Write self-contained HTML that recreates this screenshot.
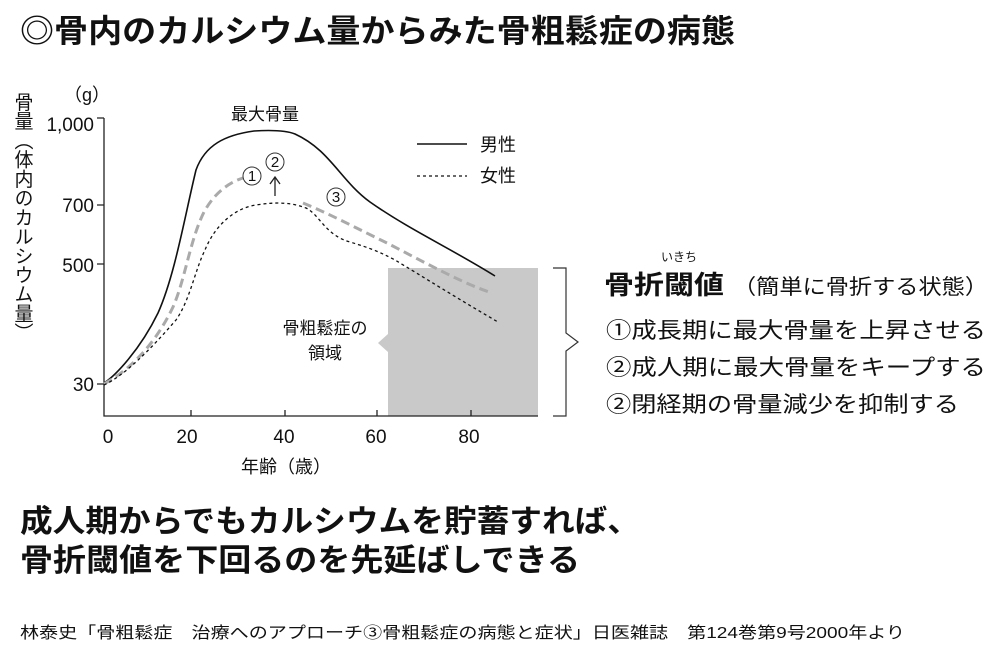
<!DOCTYPE html>
<html><head><meta charset="utf-8"><style>
html,body{margin:0;padding:0;background:#fff;}
svg{display:block;}
text{font-family:"Liberation Sans","Noto Sans CJK JP",sans-serif;fill:#111;}
</style></head><body>
<svg width="1000" height="645" viewBox="0 0 1000 645" xmlns="http://www.w3.org/2000/svg">
<text x="20" y="42" font-size="32" font-weight="bold" textLength="715" lengthAdjust="spacingAndGlyphs">◎骨内のカルシウム量からみた骨粗鬆症の病態</text>

<!-- y label -->
<text x="22" y="92" font-size="19" style="writing-mode:vertical-rl;glyph-orientation-vertical:0" textLength="250" lengthAdjust="spacingAndGlyphs">骨量（体内のカルシウム量）</text>
<text x="64" y="101" font-size="18">（g）</text>

<!-- gray box -->
<rect x="388" y="268" width="150" height="148" fill="#c9c9c9"/>
<polygon points="388,334 378,343 388,352" fill="#c9c9c9"/>

<!-- axes -->
<path d="M104,118 V416 H538" fill="none" stroke="#222" stroke-width="1.3"/>
<path d="M97,118H104M97,205H104M97,264H104M97,384H104M191,416v-6M285,416v-6M377,416v-6M471,416v-6" stroke="#222" stroke-width="1.3"/>
<g font-size="19" text-anchor="end">
<text x="94" y="131">1,000</text><text x="94" y="212">700</text><text x="94" y="272">500</text><text x="94" y="391">30</text></g>
<g font-size="19" text-anchor="middle">
<text x="108" y="443">0</text><text x="187" y="443">20</text><text x="284" y="443">40</text><text x="376" y="443">60</text><text x="469" y="443">80</text></g>
<text x="286" y="473" font-size="18" text-anchor="middle">年齢（歳）</text>
<text x="265" y="120" font-size="17" text-anchor="middle">最大骨量</text>

<!-- curves -->
<path d="M104,383 C115,376 140,350 158,313 C175,275 185,215 196,170 C205,145 225,135 254,131 C270,130 285,130 295,134 C330,150 340,180 370,202 C410,230 450,248 495,276" fill="none" stroke="#111" stroke-width="1.6"/>
<path d="M104,384 C120,375 150,355 173,307 C185,280 190,240 204,212 C215,192 230,182 243,178" fill="none" stroke="#aaa" stroke-width="3" stroke-dasharray="9,5"/>
<path d="M303,203 C330,214 360,230 387,243 C420,260 460,282 489,292" fill="none" stroke="#aaa" stroke-width="3" stroke-dasharray="9,5"/>
<path d="M104,385 C125,375 150,350 176,320 C190,300 195,270 205,250 C215,225 235,208 256,205 C275,202 290,202 306,208 C320,215 325,235 350,242 C370,248 380,252 395,260 C420,275 460,300 498,322" fill="none" stroke="#111" stroke-width="1.3" stroke-dasharray="3,3"/>

<g font-size="15" text-anchor="middle">
<circle cx="252" cy="176" r="9" fill="none" stroke="#333"/><text x="252" y="181">1</text>
<circle cx="275" cy="162" r="9" fill="none" stroke="#333"/><text x="275" y="167">2</text>
<circle cx="336" cy="197" r="9" fill="none" stroke="#333"/><text x="336" y="202">3</text>
</g>
<path d="M275,196V178M270,184L275,177L280,184" fill="none" stroke="#222" stroke-width="1.3"/>

<!-- legend -->
<line x1="417" y1="144" x2="467" y2="144" stroke="#111" stroke-width="1.5"/>
<line x1="417" y1="176" x2="467" y2="176" stroke="#111" stroke-width="1.3" stroke-dasharray="3,3"/>
<text x="480" y="151" font-size="18">男性</text>
<text x="480" y="182" font-size="18">女性</text>

<text x="325" y="334" font-size="17" text-anchor="middle">骨粗鬆症の</text>
<text x="325" y="359" font-size="17" text-anchor="middle">領域</text>

<!-- brace -->
<path d="M553,268 H566 V333 L578,342 L566,351 V416 H553" fill="none" stroke="#333" stroke-width="1.2"/>

<text x="661" y="261" font-size="12">いきち</text>
<text x="604" y="294" font-size="26" font-weight="bold" textLength="120" lengthAdjust="spacingAndGlyphs">骨折閾値</text>
<text x="733" y="294" font-size="21" textLength="255" lengthAdjust="spacingAndGlyphs">（簡単に骨折する状態）</text>
<text x="606" y="338" font-size="22" textLength="380" lengthAdjust="spacingAndGlyphs">①成長期に最大骨量を上昇させる</text>
<text x="606" y="375" font-size="22" textLength="380" lengthAdjust="spacingAndGlyphs">②成人期に最大骨量をキープする</text>
<text x="606" y="412" font-size="22" textLength="353" lengthAdjust="spacingAndGlyphs">②閉経期の骨量減少を抑制する</text>

<text x="20" y="532" font-size="31" font-weight="bold" textLength="620" lengthAdjust="spacingAndGlyphs">成人期からでもカルシウムを貯蓄すれば、</text>
<text x="20" y="571" font-size="31" font-weight="bold" textLength="560" lengthAdjust="spacingAndGlyphs">骨折閾値を下回るのを先延ばしできる</text>

<text x="20" y="638" font-size="16" textLength="885" lengthAdjust="spacingAndGlyphs">林泰史「骨粗鬆症　治療へのアプローチ③骨粗鬆症の病態と症状」日医雑誌　第124巻第9号2000年より</text>
</svg>
</body></html>
